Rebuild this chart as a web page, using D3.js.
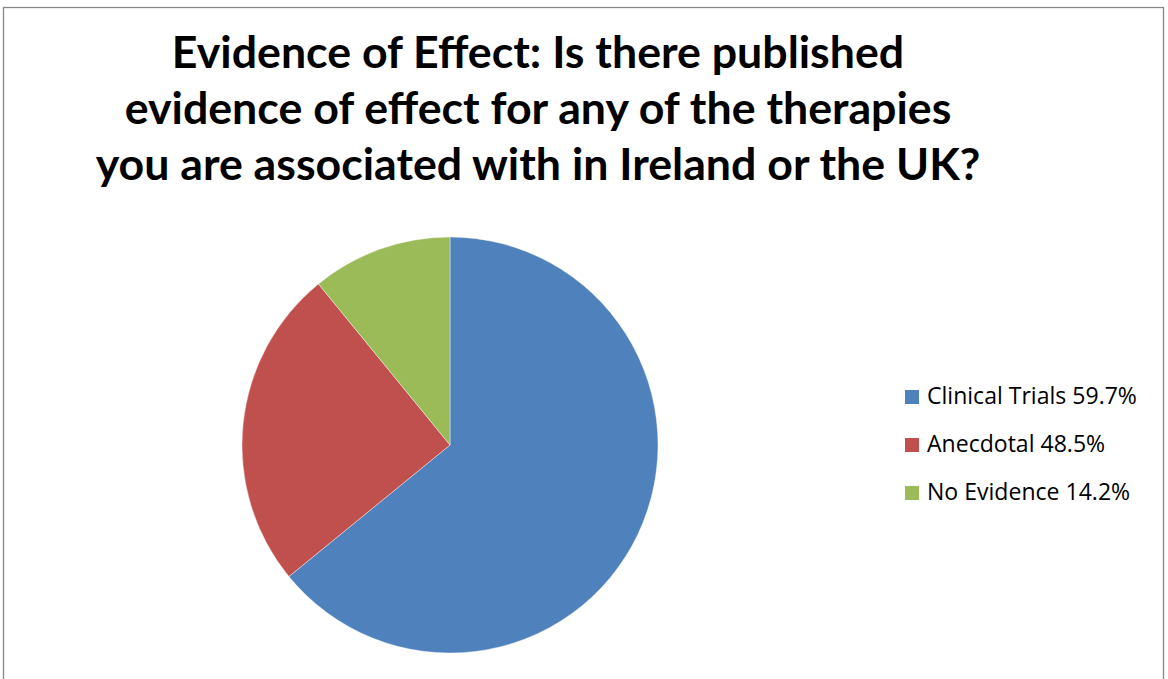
<!DOCTYPE html>
<html>
<head>
<meta charset="utf-8">
<script src="https://cdn.jsdelivr.net/npm/d3@7"></script>
<style>
  body { margin: 0; background: #fff; }
  svg { display: block; }
</style>
</head>
<body>
<svg id="chart"></svg>
<script>
// slice sizes as drawn, legend labels as printed
var categories = ["Clinical Trials", "Anecdotal", "No Evidence"]
var sliceValues = [64.1, 25.0, 10.9]
var labelPercents = ["59.7%", "48.5%", "14.2%"]
var colors = ["#4F81BD", "#C0504D", "#9BBB59"]
var titleLines = [
    "Evidence of Effect: Is there published",
    "evidence of effect for any of the therapies",
    "you are associated with in Ireland or the UK?"
]

var width = 1168, height = 679

var svg = d3.select("#chart")
    .attr("width", width)
    .attr("height", height)

// chart frame (bottom edge is off-screen)
svg.append("rect")
    .attr("x", 3.5).attr("y", 7.5)
    .attr("width", 1160).attr("height", 700)
    .style("fill", "#fff")
    .style("stroke", "#888")
    .style("stroke-width", "1.3px")

// title
var title = svg.append("g")
var tLines = title.selectAll("text")
    .data(titleLines)
    .enter().append("text")
    .attr("x", 538)
    .attr("y", (d, i) => 68 + i * 56)
    .attr("text-anchor", "middle")
    .style("font-family", "Lato, 'Open Sans', sans-serif")
    .style("font-weight", "bold")
    .style("font-size", "38px")
    .style("fill", "#000")
    .text(d => d)

// fit the longest line to the width measured in the picture
var w3 = tLines.nodes()[2].getComputedTextLength()
tLines.style("font-size", (38 * 885 / w3) + "px")

// pie
var cx = 450, cy = 445, r = 208
var pie = d3.pie().sort(null).value(d => d)
var arc = d3.arc().innerRadius(0).outerRadius(r)

svg.append("g")
    .attr("transform", "translate(" + cx + "," + cy + ")")
    .selectAll("path")
    .data(pie(sliceValues))
    .enter().append("path")
    .attr("d", arc)
    .style("fill", (d, i) => colors[i])
    .style("stroke", "#fff")
    .style("stroke-width", "0.4px")

// legend
var legendY = d3.scalePoint()
    .domain(categories)
    .range([397, 493])

var legend = svg.selectAll(".legend")
    .data(categories)
    .enter().append("g")
    .attr("class", "legend")
    .attr("transform", d => "translate(905," + legendY(d) + ")")

legend.append("rect")
    .attr("x", 0).attr("y", -7)
    .attr("width", 14).attr("height", 14)
    .style("fill", (d, i) => colors[i])

var lText = legend.append("text")
    .attr("x", 22)
    .attr("y", 7)
    .style("font-family", "'Open Sans', sans-serif")
    .style("font-size", "20px")
    .style("fill", "#000")
    .text((d, i) => d + " " + labelPercents[i])

var lw = lText.nodes()[0].getComputedTextLength()
lText.style("font-size", (20 * 210 / lw) + "px")
</script>
</body>
</html>
